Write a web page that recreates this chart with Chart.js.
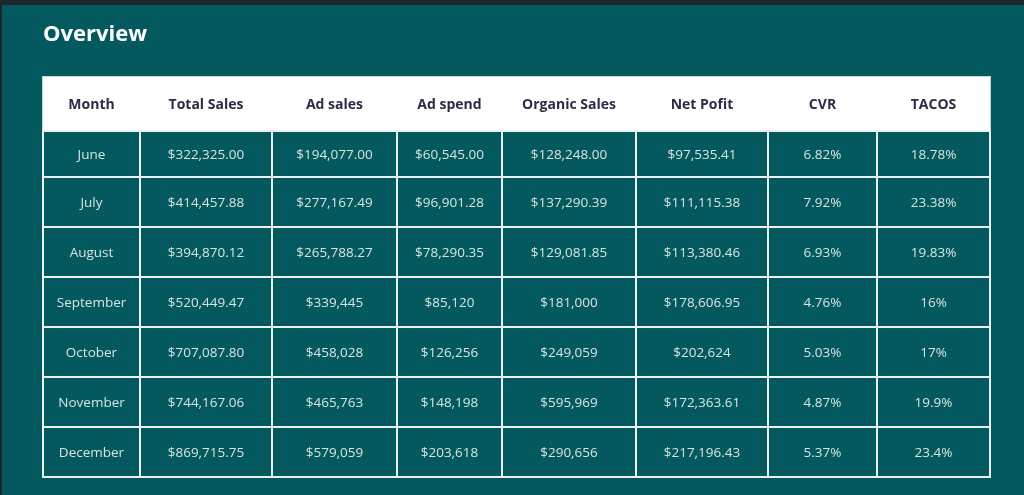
<!DOCTYPE html>
<html>
<head>
<meta charset="utf-8">
<script src="https://cdn.jsdelivr.net/npm/chart.js@4.4.1/dist/chart.umd.min.js"></script>
<style>
  html, body { margin: 0; padding: 0; background: #1d2628; width: 1024px; height: 495px; overflow: hidden; }
  #wrap { position: absolute; left: 2px; top: 5px; width: 1022px; height: 490px; background: #03595d; }
  canvas { display: block; }
</style>
</head>
<body>
<div id="wrap"><canvas id="chart" width="1022" height="490"></canvas></div>
<script>
/* ---------- DATA ---------- */
const columns = ["Month", "Total Sales", "Ad sales", "Ad spend", "Organic Sales", "Net Pofit", "CVR", "TACOS"];
const months = ["June", "July", "August", "September", "October", "November", "December"];
const totalSales = ["$322,325.00", "$414,457.88", "$394,870.12", "$520,449.47", "$707,087.80", "$744,167.06", "$869,715.75"];
const adSales = ["$194,077.00", "$277,167.49", "$265,788.27", "$339,445", "$458,028", "$465,763", "$579,059"];
const adSpend = ["$60,545.00", "$96,901.28", "$78,290.35", "$85,120", "$126,256", "$148,198", "$203,618"];
const organicSales = ["$128,248.00", "$137,290.39", "$129,081.85", "$181,000", "$249,059", "$595,969", "$290,656"];
const netProfit = ["$97,535.41", "$111,115.38", "$113,380.46", "$178,606.95", "$202,624", "$172,363.61", "$217,196.43"];
const cvr = ["6.82%", "7.92%", "6.93%", "4.76%", "5.03%", "4.87%", "5.37%"];
const tacos = ["18.78%", "23.38%", "19.83%", "16%", "17%", "19.9%", "23.4%"];

const tableColumns = [months, totalSales, adSales, adSpend, organicSales, netProfit, cvr, tacos];

/* ---------- LAYOUT (widths in scale units) ---------- */
const colWidths = [97, 132, 125, 105, 134, 132, 109, 113];
const rowHeights = [54, 46, 50, 50, 50, 50, 50, 50];

const colEdges = colWidths.reduce((a, w) => { a.push(a[a.length - 1] + w); return a; }, [0]);
const rowEdges = rowHeights.reduce((a, h) => { a.push(a[a.length - 1] + h); return a; }, [0]);

const HEADER_COLOR = "#2d2c44";
const CELL_COLOR = "#d6e4e3";
const LINE_COLOR = "#e9f0f0";
const TEXT_NUDGE = 1.5; // px, optical centring of text in cells

/* ---------- TABLE PLUGIN ---------- */
const tablePlugin = {
    id: "table",
    beforeDatasetsDraw(chart) {
        const ctx = chart.ctx;
        const x = chart.scales.x;
        const y = chart.scales.y;
        const px = v => x.getPixelForValue(v);
        const py = v => y.getPixelForValue(v);

        const left = px(colEdges[0]);
        const right = px(colEdges[colEdges.length - 1]);
        const top = py(rowEdges[0]);
        const headBottom = py(rowEdges[1]);
        const bottom = py(rowEdges[rowEdges.length - 1]);

        ctx.save();

        // header band
        ctx.fillStyle = "#ffffff";
        ctx.fillRect(left, top, right - left, headBottom - top);
        ctx.strokeStyle = "#c9d9d9";
        ctx.lineWidth = 1;
        ctx.strokeRect(left - 0.5, top - 0.5, right - left + 1, headBottom - top + 1);

        // grid
        ctx.strokeStyle = LINE_COLOR;
        ctx.lineWidth = 2;
        ctx.beginPath();
        colEdges.forEach(e => {
            const xx = px(e);
            ctx.moveTo(xx, headBottom);
            ctx.lineTo(xx, bottom + 1);
        });
        rowEdges.slice(1).forEach(e => {
            const yy = py(e);
            ctx.moveTo(left - 1, yy);
            ctx.lineTo(right + 1, yy);
        });
        ctx.stroke();

        // header text
        ctx.textAlign = "center";
        ctx.textBaseline = "middle";
        ctx.fillStyle = HEADER_COLOR;
        ctx.font = "bold 14px 'Open Sans', sans-serif";
        columns.forEach((c, i) => {
            const cx = px((colEdges[i] + colEdges[i + 1]) / 2);
            const cy = py((rowEdges[0] + rowEdges[1]) / 2) + TEXT_NUDGE;
            ctx.fillText(c, cx, cy);
        });

        // cells
        ctx.fillStyle = CELL_COLOR;
        ctx.font = "13.5px 'Open Sans', sans-serif";
        tableColumns.forEach((col, i) => {
            const cx = px((colEdges[i] + colEdges[i + 1]) / 2);
            col.forEach((val, r) => {
                const cy = py((rowEdges[r + 1] + rowEdges[r + 2]) / 2) + TEXT_NUDGE;
                ctx.fillText(val, cx, cy);
            });
        });

        ctx.restore();
    }
};

/* ---------- CHART ---------- */
new Chart(document.getElementById("chart"), {
    type: "scatter",
    data: { datasets: [{ data: [] }] },
    options: {
        responsive: false,
        animation: false,
        events: [],
        layout: { padding: { left: 41, right: 34, top: 0, bottom: 18 } },
        plugins: {
            legend: { display: false },
            tooltip: { enabled: false },
            title: {
                display: true,
                text: "Overview",
                align: "start",
                color: "#ffffff",
                font: { family: "'Open Sans', sans-serif", size: 22, weight: "bold", lineHeight: 1.2 },
                padding: { top: 16.5, bottom: 29.1 }
            }
        },
        scales: {
            x: { type: "linear", display: false, min: 0, max: colEdges[colEdges.length - 1] },
            y: { type: "linear", display: false, min: 0, max: rowEdges[rowEdges.length - 1], reverse: true }
        }
    },
    plugins: [tablePlugin]
});
</script>
</body>
</html>
